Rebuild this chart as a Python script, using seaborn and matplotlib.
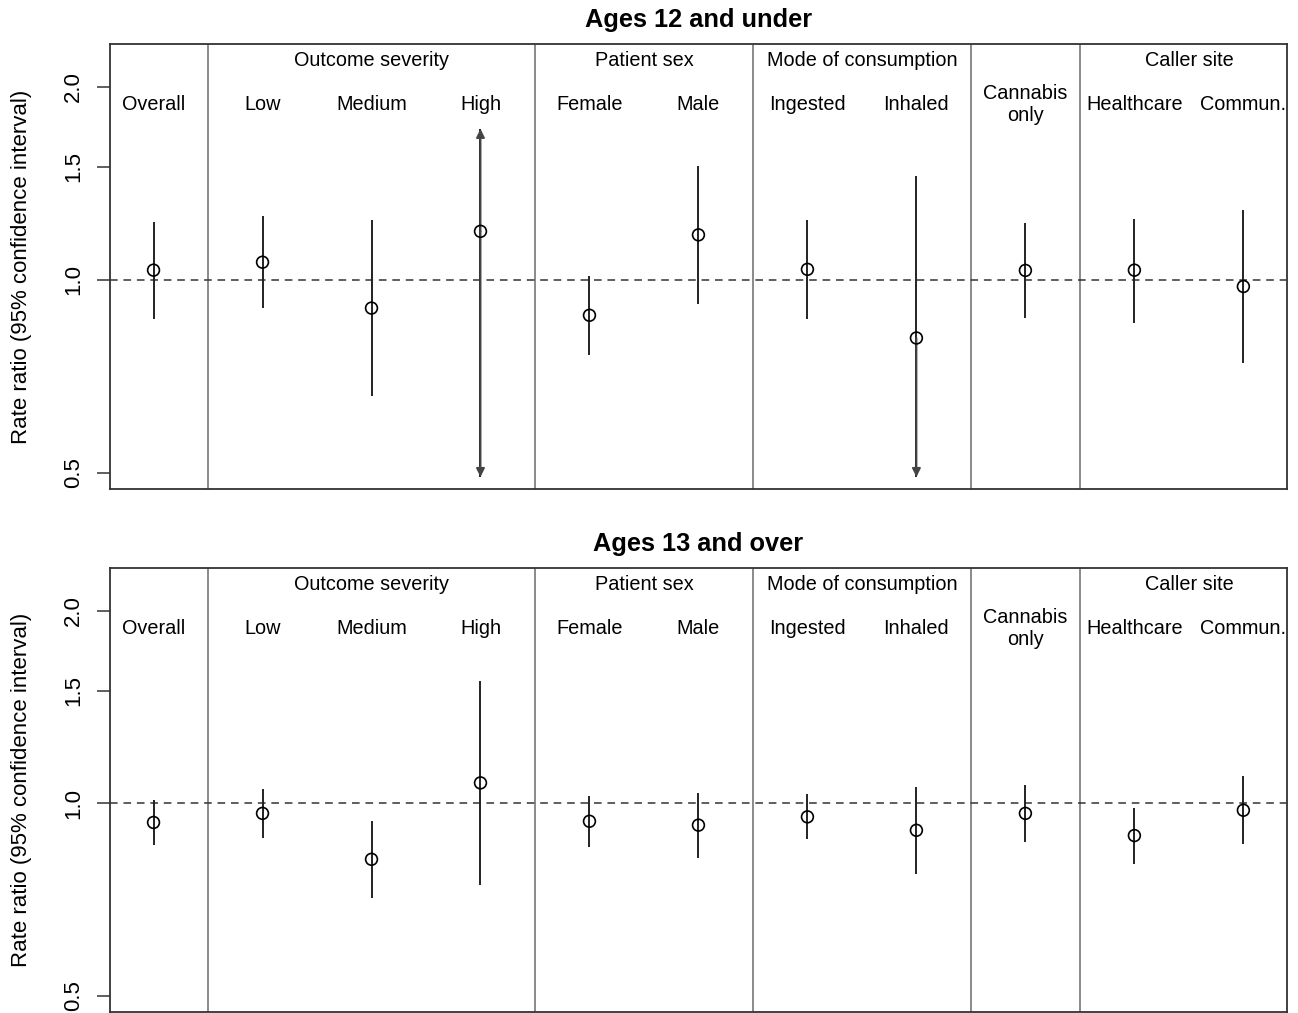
import matplotlib
matplotlib.use("Agg")
import matplotlib.pyplot as plt
import numpy as np
import pandas as pd
import seaborn as sns

# categories (left to right) and the group each belongs to ("" = stands alone)
categories = ["Overall", "Low", "Medium", "High", "Female", "Male",
              "Ingested", "Inhaled", "Cannabis\nonly", "Healthcare", "Commun."]
groups = ["", "Outcome severity", "Outcome severity", "Outcome severity",
          "Patient sex", "Patient sex", "Mode of consumption", "Mode of consumption",
          "", "Caller site", "Caller site"]

# Ages 12 and under: rate ratio + 95% CI (arrow = interval runs past the plotted end)
rr_u12 = [1.035, 1.065, 0.903, 1.190, 0.880, 1.175, 1.038, 0.811, 1.034, 1.035, 0.976]
lo_u12 = [0.868, 0.903, 0.658, 0.492, 0.763, 0.918, 0.867, 0.492, 0.870, 0.857, 0.741]
hi_u12 = [1.229, 1.256, 1.238, 1.720, 1.014, 1.505, 1.241, 1.452, 1.225, 1.246, 1.283]
lo_arrow_u12 = [False, False, False, True, False, False, False, True, False, False, False]
hi_arrow_u12 = [False, False, False, True, False, False, False, False, False, False, False]

# Ages 13 and over
rr_o13 = [0.933, 0.964, 0.817, 1.076, 0.937, 0.924, 0.952, 0.907, 0.964, 0.890, 0.975]
lo_o13 = [0.859, 0.881, 0.710, 0.744, 0.855, 0.821, 0.878, 0.774, 0.871, 0.802, 0.864]
hi_o13 = [1.013, 1.054, 0.937, 1.555, 1.028, 1.038, 1.034, 1.059, 1.066, 0.984, 1.102]
lo_arrow_o13 = [False] * 11
hi_arrow_o13 = [False] * 11

panels = [
    ("Ages 12 and under", rr_u12, lo_u12, hi_u12, lo_arrow_u12, hi_arrow_u12),
    ("Ages 13 and over", rr_o13, lo_o13, hi_o13, lo_arrow_o13, hi_arrow_o13),
]

sns.set_style("white")
plt.rcParams["font.family"] = ["Liberation Sans", "DejaVu Sans"]
plt.rcParams["text.color"] = "black"
plt.rcParams["axes.labelcolor"] = "black"
plt.rcParams["ytick.color"] = "black"

fig = plt.figure(figsize=(12.98, 10.13), dpi=100)
axes = [fig.add_axes([0.0847, 0.5173, 0.9068, 0.4393]),
        fig.add_axes([0.0847, 0.0010, 0.9068, 0.4383])]

pos = np.arange(1, len(categories) + 1)
line_col = "#222222"

for ax, (title, rr, lo, hi, lo_arr, hi_arr) in zip(axes, panels):
    df = pd.DataFrame({"pos": pos, "rr": rr, "lo": lo, "hi": hi})
    ax.set_yscale("log")

    # group separators
    for i in range(len(groups) - 1):
        if groups[i] != groups[i + 1] or groups[i] == "":
            ax.axvline(pos[i] + 0.5, color="#8a8a8a", lw=1.4, zorder=1)

    ax.axhline(1.0, color="#333333", lw=1.1, ls=(0, (5, 3.8)), zorder=1)

    ax.vlines(df["pos"], df["lo"], df["hi"], color=line_col, lw=1.4, zorder=2)
    for p, r, l, h, la, ha in zip(pos, rr, lo, hi, lo_arr, hi_arr):
        for flag, end in ((la, l), (ha, h)):
            if flag:
                ax.annotate("", xy=(p, end), xytext=(p, r),
                            arrowprops=dict(arrowstyle="-|>,head_length=0.5,head_width=0.25",
                                            mutation_scale=10, color="#444444", lw=1.4,
                                            shrinkA=0, shrinkB=0), zorder=2)

    sns.scatterplot(data=df, x="pos", y="rr", ax=ax, marker="o", s=72,
                    color="none", edgecolor="black", linewidth=1.2, zorder=3)

    # labels inside the panel
    for p, c in zip(pos, categories):
        ax.text(p, 1.88, c, ha="center", va="center", fontsize=14.3, linespacing=1.2)
    seen = []
    for g in groups:
        if g and g not in seen:
            seen.append(g)
            gp = pos[[i for i, x in enumerate(groups) if x == g]].mean()
            ax.text(gp, 2.2, g, ha="center", va="center", fontsize=14.3)

    ax.set_xlim(0.6, 11.4)
    ax.set_ylim(0.4713, 2.334)
    ax.set_xticks([])
    ax.set_yticks([0.5, 1.0, 1.5, 2.0])
    ax.set_yticklabels(["0.5", "1.0", "1.5", "2.0"])
    ax.yaxis.set_minor_locator(matplotlib.ticker.NullLocator())
    ax.tick_params(axis="y", left=True, length=9.5, width=1.1, pad=9,
                   labelsize=16, color="#333333")
    plt.setp(ax.get_yticklabels(), rotation=90, va="center")
    ax.set_xlabel("")
    ax.set_ylabel("Rate ratio (95% confidence interval)", fontsize=16)
    ax.yaxis.set_label_coords(-0.066, 0.5)
    ax.set_title(title, fontsize=18.3, fontweight="bold", pad=12)
    for s in ax.spines.values():
        s.set_color("#333333")
        s.set_linewidth(1.3)
        s.set_visible(True)

fig.savefig("out.png", dpi=100)
